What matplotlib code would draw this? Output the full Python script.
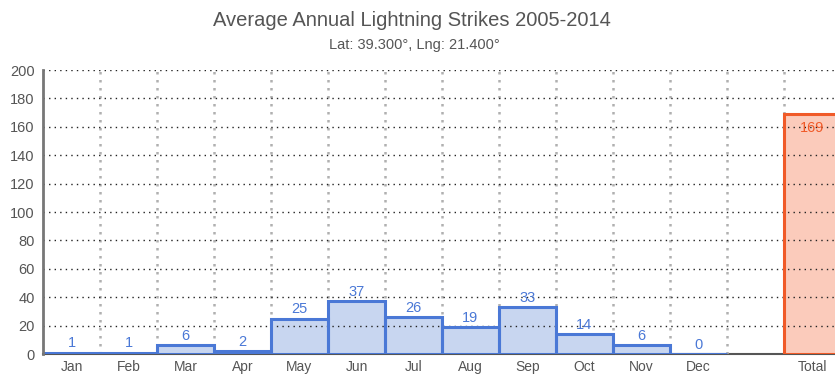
import matplotlib.pyplot as plt
import numpy as np

plt.rcParams['font.family'] = ['Liberation Sans', 'DejaVu Sans']

months = ['Jan', 'Feb', 'Mar', 'Apr', 'May', 'Jun', 'Jul', 'Aug', 'Sep', 'Oct', 'Nov', 'Dec']
strikes = [1, 1, 6, 2, 25, 37, 26, 19, 33, 14, 6, 0]
total_label = 'Total'
total = 169
yticks = np.arange(0, 201, 20)

blue_edge = '#4a78d6'
blue_fill = '#c8d6f0'
red_edge = '#f05a28'
red_fill = '#fbcbbb'
text_gray = '#555555'

fig = plt.figure(figsize=(8.35, 3.74), dpi=100)
ax = fig.add_axes([43 / 835, 1 - 354 / 374, 1 - 43 / 835, (354 - 70) / 374])

x_months = np.arange(len(months)) + 0.5
x_total = len(months) + 1.5

# fills go under the grid, outlines on top of it
ax.bar(x_months, strikes, width=1.0, color=blue_fill, linewidth=0, zorder=1)
ax.bar([x_total], [total], width=1.0, color=red_fill, linewidth=0, zorder=1)

for xb in np.arange(1, len(months) + 3):
    ax.axvline(xb, color='#b0b0b0', linestyle=(0, (1, 2.2)), linewidth=1.8, zorder=2)
for yv in yticks[1:]:
    ax.axhline(yv, color='#222222', linestyle=(0, (1, 3)), linewidth=1.0, zorder=2)

ax.bar(x_months, strikes, width=1.0, fill=False, edgecolor=blue_edge, linewidth=2.2, zorder=3)
ax.bar([x_total], [total], width=1.0, fill=False, edgecolor=red_edge, linewidth=2.2, zorder=3)

for xm, v in zip(x_months, strikes):
    ax.text(xm, v + 6.5, str(v), ha='center', va='center', color=blue_edge, fontsize=10.5, zorder=4)
ax.text(x_total, total - 10, str(total), ha='center', va='center', color=red_edge, fontsize=10.5, zorder=4)

ax.set_xlim(0, (835 - 43) / 57)
ax.set_ylim(0, 200)
ax.set_yticks(yticks)
ax.set_xticks(list(x_months) + [x_total])
ax.set_xticklabels(months + [total_label])
ax.tick_params(axis='both', length=0, colors=text_gray, labelsize=10)
ax.tick_params(axis='x', pad=4)
ax.tick_params(axis='y', pad=6, labelsize=10.5)

for side in ['top', 'right']:
    ax.spines[side].set_visible(False)
ax.spines['left'].set_color('#777777')
ax.spines['left'].set_linewidth(2)
ax.spines['bottom'].set_color('#555555')
ax.spines['bottom'].set_linewidth(1.5)
ax.spines['left'].set_zorder(5)
ax.spines['bottom'].set_zorder(0.5)

fig.text(412 / 835, 1 - 20 / 374, 'Average Annual Lightning Strikes 2005-2014',
         ha='center', va='center', fontsize=14.5, color=text_gray)
fig.text(414 / 835, 1 - 45 / 374, 'Lat: 39.300°, Lng: 21.400°',
         ha='center', va='center', fontsize=10.5, color=text_gray)

plt.savefig('out.png', dpi=100)
